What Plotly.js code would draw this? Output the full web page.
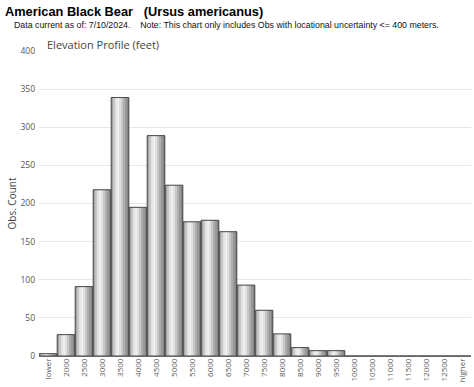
<!DOCTYPE html>
<html>
<head>
<meta charset="utf-8">
<script src="https://cdn.plot.ly/plotly-3.0.1.min.js"></script>
<style>
  html, body { margin: 0; padding: 0; background: #fff; }
  #chart { width: 474px; height: 387px; }
</style>
</head>
<body>
<div id="chart"></div>
<script>
// ---- data ----
const categories = ["lower","2000","2500","3000","3500","4000","4500","5000","5500","6000","6500","7000","7500","8000","8500","9000","9500","10000","10500","11000","11500","12000","12500","higher"];
const obsCounts  = [3, 28, 91, 218, 339, 195, 289, 224, 176, 178, 163, 93, 60, 29, 11, 7, 7, 0, 0, 0, 0, 0, 0, 0];
const yTickValues = [0, 50, 100, 150, 200, 250, 300, 350, 400];

const chartTitle = "American Black Bear\u00a0\u00a0\u00a0(Ursus americanus)";
const subTitle = "Data current as of: 7/10/2024.\u00a0\u00a0\u00a0\u00a0Note: This chart only includes Obs with locational uncertainty <= 400 meters.";
const panelTitle = "Elevation Profile (feet)";
const yTitle = "Obs.\u00a0Count";

// ---- cylinder-like shading built from overlaid bar traces ----
const barWidth = 0.98;
const stripColors = ["#a4a4a4","#cacaca","#e6e6e6","#f2f2f2","#e0e0e0","#c8c8c8","#b0b0b0","#9a9a9a","#848484"];
const traces = [];
traces.push({
  type: "bar", x: categories, y: obsCounts,
  width: barWidth, offset: -barWidth / 2,
  marker: { color: "#9a9a9a", line: { width: 0 } },
  hoverinfo: "skip", showlegend: false
});
const sw = barWidth / stripColors.length;
stripColors.forEach((c, i) => {
  traces.push({
    type: "bar", x: categories, y: obsCounts,
    width: sw + 0.004, offset: -barWidth / 2 + i * sw,
    marker: { color: c, line: { width: 0 } },
    hoverinfo: "skip", showlegend: false
  });
});
traces.push({
  type: "bar", x: categories, y: obsCounts,
  width: barWidth, offset: -barWidth / 2,
  marker: { color: "rgba(0,0,0,0)", line: { width: 1, color: "#4a4a4a" } },
  hoverinfo: "skip", showlegend: false
});

const layout = {
  width: 474, height: 387,
  margin: { l: 39, r: 3, t: 51, b: 31 },
  paper_bgcolor: "#ffffff", plot_bgcolor: "#ffffff",
  barmode: "overlay",
  showlegend: false,
  font: { family: "Open Sans, Liberation Sans, sans-serif", color: "#555" },
  title: {
    text: chartTitle,
    font: { family: "Liberation Sans, Arial, sans-serif", size: 12.8, color: "#000", weight: "bold" },
    xref: "container", yref: "container",
    x: 5 / 474, xanchor: "left",
    y: 1 - 12 / 387, yanchor: "middle",
    pad: { l: 0, r: 0, t: 0, b: 0 }
  },
  xaxis: {
    type: "category",
    categoryorder: "array", categoryarray: categories,
    range: [-0.5, categories.length - 0.5],
    tickangle: -90,
    tickfont: { size: 8, color: "#555" },
    ticks: "", showgrid: false, showline: false, zeroline: false,
    fixedrange: true
  },
  yaxis: {
    range: [0, 400],
    tickvals: yTickValues,
    tickfont: { size: 8.5, color: "#555" },
    ticks: "",
    ticklabelstandoff: 3,
    showgrid: true, gridcolor: "#e6e6e6", gridwidth: 1,
    zeroline: true, zerolinecolor: "#666", zerolinewidth: 1,
    showline: false,
    title: { text: yTitle, font: { size: 10, color: "#444" }, standoff: 1 },
    fixedrange: true
  },
  annotations: [
    {
      text: subTitle, xref: "paper", yref: "paper",
      x: (12 - 39) / 432, xanchor: "left",
      y: 1, yanchor: "middle", yshift: 26.5,
      showarrow: false,
      font: { family: "Liberation Sans, Arial, sans-serif", size: 8.8, color: "#111" }
    },
    {
      text: panelTitle, xref: "paper", yref: "paper",
      x: (45 - 39) / 432, xanchor: "left",
      y: 1, yanchor: "middle", yshift: 7,
      showarrow: false,
      font: { family: "Open Sans, sans-serif", size: 11, color: "#444" }
    }
  ]
};

Plotly.newPlot("chart", traces, layout, { displayModeBar: false, staticPlot: true });
</script>
</body>
</html>
